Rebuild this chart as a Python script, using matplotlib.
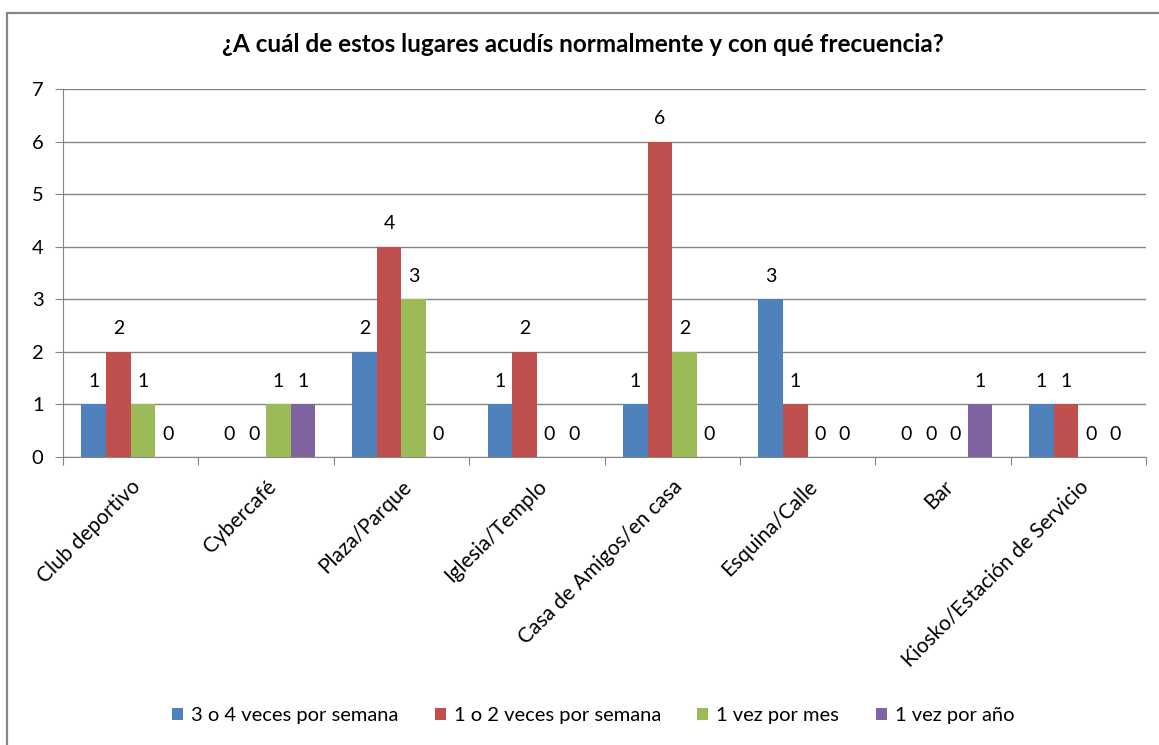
import numpy as np
import matplotlib
matplotlib.use("Agg")
import matplotlib.pyplot as plt
from matplotlib.patches import Rectangle
from matplotlib.transforms import ScaledTranslation

plt.rcParams['font.family'] = ['Lato', 'DejaVu Sans']

# categories and series
lugares = ["Club deportivo", "Cybercafé", "Plaza/Parque", "Iglesia/Templo",
           "Casa de Amigos/en casa", "Esquina/Calle", "Bar",
           "Kiosko/Estación de Servicio"]
tres_cuatro_semana = [1, 0, 2, 1, 1, 3, 0, 1]
uno_dos_semana = [2, 0, 4, 2, 6, 1, 0, 1]
una_vez_mes = [1, 1, 3, 0, 2, 0, 0, 0]
una_vez_anio = [0, 1, 0, 0, 0, 0, 1, 0]

series = [tres_cuatro_semana, uno_dos_semana, una_vez_mes, una_vez_anio]
nombres = ["3 o 4 veces por semana", "1 o 2 veces por semana",
           "1 vez por mes", "1 vez por año"]
colores = ["#4F81BD", "#C0504D", "#9BBB59", "#8064A2"]

W, H = 1159, 745
fig = plt.figure(figsize=(W / 100, H / 100), dpi=100)

# chart frame (only left/top edges visible in the picture)
fig.patches.append(Rectangle((7 / W, -0.1), 1.2, 1 - 13 / H + 0.1,
                             transform=fig.transFigure, fill=False,
                             edgecolor="#868686", linewidth=1.6))

left, right, top, bottom = 63, 1146, 89, 457
ax = fig.add_axes([left / W, 1 - bottom / H, (right - left) / W, (bottom - top) / H])

x = np.arange(len(lugares))
bw = 1 / 5.5
for i, (vals, nom, col) in enumerate(zip(series, nombres, colores)):
    pos = x + (i - 1.5) * bw
    ax.bar(pos, vals, width=bw, color=col, label=nom, zorder=3)
    for p, v in zip(pos, vals):
        ax.annotate(str(v), (p, v), xytext=(0, 16.5), textcoords="offset points",
                    ha="center", va="center", fontsize=14, color="black")

ax.set_xlim(-0.5, len(lugares) - 0.5)
ax.set_ylim(0, 7)
ax.set_yticks(range(8))
ax.yaxis.grid(True, color="#868686", linewidth=1, zorder=0)
ax.set_axisbelow(True)

ax.set_xticks(np.arange(-0.5, len(lugares), 1))
ax.set_xticklabels([])
ax.set_xticks(x, minor=True)
ax.set_xticklabels(lugares, minor=True, rotation=45, ha="right",
                   rotation_mode="anchor", fontsize=15)
shift = ScaledTranslation(24 / 100, 0, fig.dpi_scale_trans)
for lab in ax.get_xticklabels(minor=True):
    lab.set_transform(lab.get_transform() + shift)
ax.tick_params(axis="x", which="minor", length=0, pad=14)
ax.tick_params(axis="x", which="major", length=6, color="#868686")
ax.tick_params(axis="y", length=6, color="#868686", labelsize=14.5, pad=8)

for s in ["top", "right"]:
    ax.spines[s].set_visible(False)
for s in ["left", "bottom"]:
    ax.spines[s].set_color("#868686")

fig.text(583 / W, 1 - 45 / H, "¿A cuál de estos lugares acudís normalmente y con qué frecuencia?",
         ha="center", va="center", fontsize=17.5, fontweight="bold")

fig.legend(loc="center", bbox_to_anchor=(593 / W, 1 - 716 / H), ncol=4,
           frameon=False, fontsize=14.5, handlelength=0.55, handleheight=0.55,
           handletextpad=0.4, columnspacing=1.8)

fig.savefig("out.png", dpi=100)
